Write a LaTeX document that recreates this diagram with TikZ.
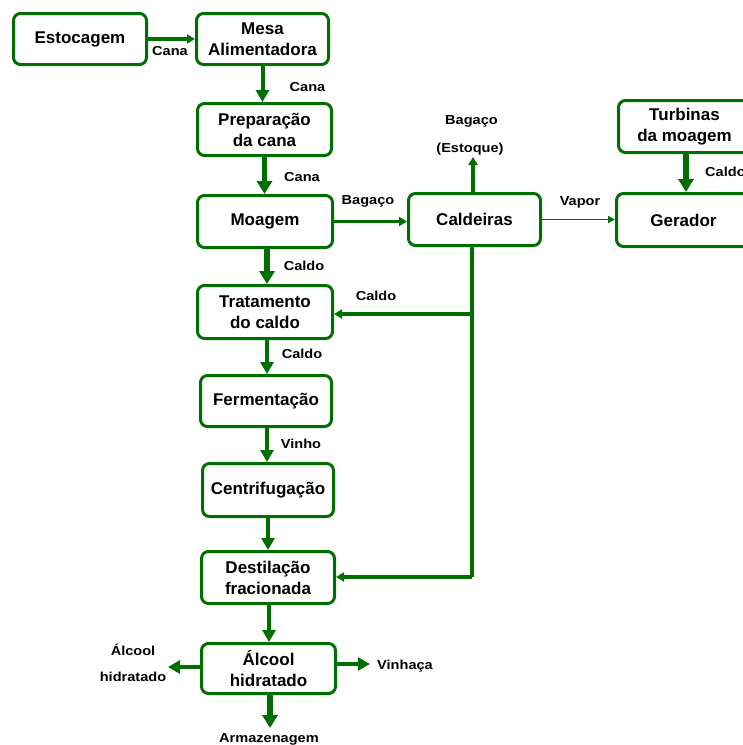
\documentclass[tikz,border=0pt]{standalone}
\usepackage{fontspec}
\setmainfont{Liberation Sans}
\newfontfamily\lblfont[FakeStretch=1.12]{Liberation Sans}
\usetikzlibrary{arrows.meta,calc}
\definecolor{dg}{RGB}{0,110,0}
\begin{document}
\begin{tikzpicture}[x=1pt,y=-1pt,
  box/.style={draw=dg, line width=3pt, rounded corners=7pt, fill=white, align=center,
    font=\bfseries\fontsize{17}{21}\selectfont, inner sep=0pt},
  lbl/.style={font=\lblfont\bfseries\fontsize{13}{15}\selectfont, inner sep=0pt, anchor=base},
  arT/.style={draw=dg, line width=1.5pt, -{Triangle[width=7pt,length=7pt]}},
  arS/.style={draw=dg, line width=3.2pt, -{Triangle[width=9pt,length=8pt]}},
  arM/.style={draw=dg, line width=4pt, -{Triangle[width=13pt,length=12pt]}},
  arL/.style={draw=dg, line width=5.5pt, -{Triangle[width=15pt,length=13pt]}},
  plain/.style={draw=dg, line width=3.2pt}]
\useasboundingbox (0,0) rectangle (743,745);
\clip (0,0) rectangle (743,745);

% boxes
\node[box, minimum width=133pt, minimum height=51pt] (est) at (80,39) {Estocagem};
\node[box, minimum width=132pt, minimum height=51pt] (mesa) at (262.5,39) {Mesa\\Alimentadora};
\node[box, minimum width=134pt, minimum height=52pt] (prep) at (264.5,129.5) {Preparação\\da cana};
\node[box, minimum width=135pt, minimum height=52pt] (moag) at (265,221.5) {Moagem};
\node[box, minimum width=132pt, minimum height=52pt] (cald) at (474.5,219.5) {Caldeiras};
\node[box, minimum width=134pt, minimum height=53pt] (ger) at (683.5,220) {Gerador};
\node[box, minimum width=132pt, minimum height=52pt] (turb) at (684.5,126.5) {Turbinas\\da moagem};
\node[box, minimum width=135pt, minimum height=53pt] (trat) at (265,312) {Tratamento\\do caldo};
\node[box, minimum width=131pt, minimum height=51pt] (ferm) at (266,401) {Fermentação};
\node[box, minimum width=131pt, minimum height=53pt] (cent) at (268,490) {Centrifugação};
\node[box, minimum width=133pt, minimum height=52pt] (dest) at (268,577.5) {Destilação\\fracionada};
\node[box, minimum width=134pt, minimum height=50pt] (alc) at (268.5,668.5) {Álcool\\hidratado};

% connectors
\draw[arS] (est.east) -- (est.east -| mesa.west);
\draw[arM] (mesa.south) -- (mesa.south |- prep.north);
\draw[arL] (prep.south) -- (prep.south |- moag.north);
\draw[arS] (moag.east) -- (moag.east -| cald.west);
\coordinate (bag) at (473,157);
\draw[arS] (cald.north -| bag) -- (bag);
\draw[arT] (cald.east) -- (cald.east -| ger.west);
\draw[arL] ([xshift=1.5pt]turb.south) -- ([xshift=1.5pt]turb.south |- ger.north);
\draw[arL] ([xshift=2pt]moag.south) -- ([xshift=2pt]moag.south |- trat.north);
\coordinate (j1) at (472,314);
\coordinate (j2) at (472,577);
\draw[plain] (cald.south -| j1) -- (j2);
\draw[arS] (j1) -- (j1 -| trat.east);
\draw[arS] (j2) -- (j2 -| dest.east);
\draw[arM] ([xshift=2pt]trat.south) -- ([xshift=2pt]trat.south |- ferm.north);
\draw[arM] ([xshift=1pt]ferm.south) -- ([xshift=1pt]ferm.south |- cent.north);
\draw[arM] (cent.south) -- (cent.south |- dest.north);
\draw[arM] ([xshift=1pt]dest.south) -- ([xshift=1pt]dest.south |- alc.north);
\coordinate (al) at (168,667);
\draw[arM] (alc.west |- al) -- (al);
\coordinate (vr) at (370,664);
\draw[arM] (alc.east |- vr) -- (vr);
\coordinate (arm) at (270,728);
\draw[arL] (alc.south -| arm) -- (arm);

% labels
\node[lbl] (l1) at (170,55) {Cana};
\node[lbl] (l2) at (307.5,91.5) {Cana};
\node[lbl] (l3) at (302,181.5) {Cana};
\node[lbl] (l4) at (368,204) {Bagaço};
\node[lbl] (l5) at (471.5,124) {Bagaço};
\node[lbl] (l6) at (470,152) {(Estoque)};
\node[lbl] (l7) at (580,205) {Vapor};
\node[lbl, anchor=base west] (l8) at (705,176) {Caldo};
\node[lbl] (l9) at (304,270) {Caldo};
\node[lbl] (l10) at (376,300) {Caldo};
\node[lbl] (l11) at (302,358) {Caldo};
\node[lbl] (l12) at (301,448) {Vinho};
\node[lbl] (l13) at (133,655) {Álcool};
\node[lbl] (l14) at (133,681) {hidratado};
\node[lbl] (l15) at (405,669) {Vinhaça};
\node[lbl] (l16) at (269,742) {Armazenagem};
\end{tikzpicture}
\end{document}
